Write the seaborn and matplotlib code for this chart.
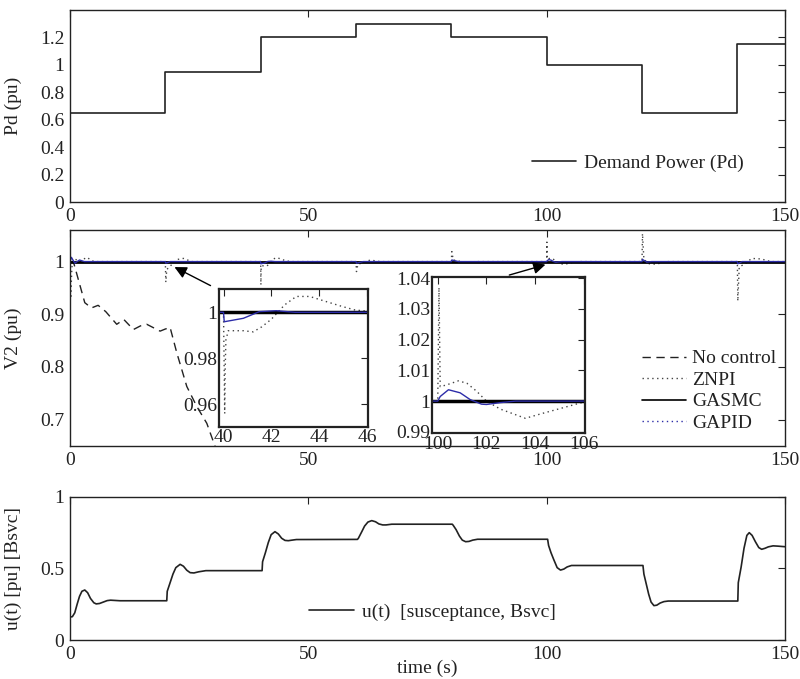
import numpy as np
import pandas as pd
import matplotlib
matplotlib.use("Agg")
import matplotlib.pyplot as plt
from matplotlib.lines import Line2D
from matplotlib.ticker import FuncFormatter
import seaborn as sns

# ==========================================
# 1. Data
# ==========================================
# Demand power steps
pd_time = [0, 20, 40, 60, 80, 100, 120, 140, 150]
pd_value = [0.65, 0.95, 1.2, 1.3, 1.2, 1.0, 0.65, 1.15, 1.15]

# V2 - no control
nc_time = [0, 0.7, 3.1, 4.5, 5.9, 7.5, 9.8, 11.3, 13.3, 14.8, 16.1, 18.9, 20.0,
           21.0, 22.4, 24.5, 26.6, 28.7, 30.8]
nc_value = [1.0, 1.0, 0.922, 0.912, 0.917, 0.905, 0.881, 0.89, 0.871, 0.878, 0.881,
            0.868, 0.872, 0.875, 0.827, 0.763, 0.725, 0.693, 0.64]

# V2 - ZNPI
znpi_time = [0, 0.15, 0.4, 1.0, 2.0, 3.5, 5,
             20.0, 20.1, 20.3, 21.2, 22.5, 23.8, 25.5,
             40.0, 40.05, 40.07, 40.1, 40.2, 40.83, 41.24, 41.6, 42.0, 42.55, 43.04,
             43.6, 44.28, 44.97, 45.5, 46.5,
             60.0, 60.1, 60.4, 61.5, 63, 65,
             80.0, 80.1, 80.4, 81.5, 83, 85,
             100.0, 100.05, 100.1, 100.37, 100.85, 101.2, 101.6, 102.0, 102.57, 103.12,
             103.6, 104.35, 105.18, 106, 107,
             120.0, 120.1, 120.4, 121.5, 123, 125,
             140.0, 140.1, 140.4, 141.5, 143, 145, 147, 150]
znpi_value = [1.0, 0.93, 0.99, 1.005, 1.0, 1.008, 1.0,
              1.0, 0.961, 0.985, 0.993, 1.004, 1.006, 1.0,
              1.0, 0.956, 0.975, 0.988, 0.992, 0.992, 0.9915, 0.9937, 0.997, 1.0032, 1.0069,
              1.0069, 1.0047, 1.0025, 1.001, 1.0,
              1.0, 0.981, 0.995, 0.998, 1.003, 1.0,
              1.0, 1.019, 1.003, 1.001, 0.998, 1.0,
              1.0, 1.037, 1.0047, 1.0053, 1.0066, 1.0058, 1.0032, 1.0, 0.9974, 0.9958,
              0.9944, 0.9961, 0.9979, 0.9997, 1.0,
              1.0, 1.053, 1.004, 0.996, 0.995, 1.0,
              1.0, 0.925, 0.99, 0.995, 1.006, 1.005, 1.0, 1.0]

# V2 - GASMC
gasmc_time = [0, 150]
gasmc_value = [1.0, 1.0]

# V2 - GAPID
gapid_time = [0, 0.3, 1.0, 2.0, 3.0,
              20.0, 20.1, 21,
              40.0, 40.03, 40.83, 41.5, 42.2, 43.0,
              60, 60.1, 61.5,
              80, 80.1, 81.5,
              100.0, 100.1, 100.44, 100.92, 101.33, 101.8, 102.0, 102.57, 103.2,
              120, 120.1, 121, 122,
              140, 140.1, 141, 150]
gapid_value = [1.0, 1.008, 0.997, 1.003, 1.0,
               1.0, 0.997, 1.0,
               1.0, 0.9959, 0.9974, 1.0003, 1.0007, 1.0,
               1.0, 0.997, 1.0,
               1.0, 1.003, 1.0,
               1.0, 1.0015, 1.0037, 1.0027, 1.0005, 0.999, 0.9989, 0.9995, 1.0,
               1.0, 1.004, 0.999, 1.0,
               1.0, 0.996, 1.0, 1.0]

# control signal u(t)
u_time = [0, 0.5, 1.0, 1.5, 2.0, 2.5, 3.1, 3.7, 4.3, 5.0, 5.5, 6.2, 7, 7.8, 8.5, 9.5, 10.5, 20.3,
          20.4, 21.0, 21.6, 22.2, 23.1, 23.8, 24.5, 25.2, 26, 27, 28.5, 40.3,
          40.4, 41, 41.6, 42.2, 43, 43.7, 44.4, 45.1, 45.8, 46.6, 47.5, 60.3,
          60.5, 61.2, 61.8, 62.5, 63.3, 64.1, 64.8, 65.6, 66.3, 67.5, 80.2,
          80.4, 81, 81.7, 82.3, 83, 83.7, 84.5, 85.5, 100.2,
          100.4, 100.9, 101.5, 102.2, 102.9, 103.6, 104.3, 105.2, 120.2,
          120.4, 120.9, 121.4, 121.9, 122.5, 123.1, 123.8, 124.6, 125.5, 140.1,
          140.2, 140.8, 141.4, 142, 142.5, 143.1, 143.8, 144.5, 145.1, 145.8, 146.5,
          147.5, 148.5, 150]
u_value = [0.16, 0.163, 0.19, 0.25, 0.305, 0.34, 0.349, 0.33, 0.29, 0.26, 0.252, 0.255,
           0.265, 0.275, 0.278, 0.276, 0.274, 0.274,
           0.34, 0.40, 0.46, 0.505, 0.528, 0.515, 0.487, 0.47, 0.468, 0.476, 0.484, 0.484,
           0.546, 0.61, 0.68, 0.735, 0.756, 0.74, 0.71, 0.695, 0.693, 0.697, 0.701, 0.702,
           0.71, 0.755, 0.795, 0.823, 0.833, 0.825, 0.81, 0.803, 0.803, 0.808, 0.808,
           0.80, 0.77, 0.725, 0.697, 0.686, 0.688, 0.697, 0.703, 0.703,
           0.66, 0.61, 0.56, 0.505, 0.488, 0.495, 0.51, 0.52, 0.52,
           0.46, 0.39, 0.32, 0.265, 0.24, 0.243, 0.258, 0.268, 0.272, 0.272,
           0.40, 0.51, 0.64, 0.73, 0.749, 0.73, 0.685, 0.645, 0.633, 0.64, 0.65,
           0.657, 0.655, 0.651]

df_pd = pd.DataFrame({"t": pd_time, "v": pd_value})
df_nc = pd.DataFrame({"t": nc_time, "v": nc_value})
df_znpi = pd.DataFrame({"t": znpi_time, "v": znpi_value})
df_gasmc = pd.DataFrame({"t": gasmc_time, "v": gasmc_value})
df_gapid = pd.DataFrame({"t": gapid_time, "v": gapid_value})
df_u = pd.DataFrame({"t": u_time, "v": u_value})

# ==========================================
# 2. Style
# ==========================================
sns.set_theme(style="white")
plt.rcParams['font.family'] = ['Liberation Serif', 'DejaVu Serif']
FS = 14
INK = '#222222'
BLUE = '#2c2ca8'

fig = plt.figure(figsize=(8, 6.79), dpi=100)

ax_pd = fig.add_axes([0.0875, 0.7025, 0.89375, 0.2828])
ax_v = fig.add_axes([0.0875, 0.3432, 0.89375, 0.3181])
ax_u = fig.add_axes([0.0875, 0.0574, 0.89375, 0.2111])
ax_i1 = fig.add_axes([0.2734, 0.3707, 0.187, 0.2032])
ax_i2 = fig.add_axes([0.5396, 0.3618, 0.1916, 0.2306])

gfmt = FuncFormatter(lambda y, _: '%g' % round(y, 6))


def style_axes(ax, lw=1.0):
    for s in ax.spines.values():
        s.set_color(INK)
        s.set_linewidth(lw)
    ax.tick_params(direction='in', top=True, right=True, length=5, width=0.8,
                   colors=INK, labelsize=FS, pad=4)
    ax.xaxis.set_major_formatter(gfmt)
    ax.yaxis.set_major_formatter(gfmt)
    ax.set_xlabel('')
    ax.set_ylabel('')


def v2_lines(ax, lw_black):
    sns.lineplot(data=df_nc, x="t", y="v", ax=ax, color=INK, lw=1.0,
                 linestyle=(0, (6, 4)), estimator=None, sort=False)
    sns.lineplot(data=df_znpi, x="t", y="v", ax=ax, color='#444444', lw=1.0,
                 linestyle=(0, (1, 2.5)), estimator=None, sort=False)
    sns.lineplot(data=df_gasmc, x="t", y="v", ax=ax, color='black', lw=lw_black,
                 estimator=None, sort=False)
    sns.lineplot(data=df_gapid, x="t", y="v", ax=ax, color=BLUE, lw=1.0,
                 estimator=None, sort=False)


# ---- Panel 1: demand power
sns.lineplot(data=df_pd, x="t", y="v", ax=ax_pd, color=INK, lw=1.2,
             drawstyle='steps-post', estimator=None, sort=False)
style_axes(ax_pd)
ax_pd.set_xlim(0, 150)
ax_pd.set_ylim(0, 1.4)
ax_pd.set_xticks([0, 50, 100, 150])
ax_pd.set_yticks([0, 0.2, 0.4, 0.6, 0.8, 1.0, 1.2])
ax_pd.set_ylabel('Pd (pu)', fontsize=FS, color=INK)
ax_pd.legend(handles=[Line2D([], [], color=INK, lw=1.2)], labels=['Demand Power (Pd)'],
             loc='center left', bbox_to_anchor=(0.632, 0.203), frameon=False,
             fontsize=FS, handlelength=2.3, handletextpad=0.4, borderpad=0,
             labelcolor=INK)

# ---- Panel 2: bus voltage
v2_lines(ax_v, 2.0)
style_axes(ax_v)
ax_v.set_xlim(0, 150)
ax_v.set_ylim(0.65, 1.06)
ax_v.set_xticks([0, 50, 100, 150])
ax_v.set_yticks([0.7, 0.8, 0.9, 1.0])
ax_v.set_ylabel('V2 (pu)', fontsize=FS, color=INK)
v_handles = [
    Line2D([], [], color=INK, lw=1.0, linestyle=(0, (6, 4))),
    Line2D([], [], color='#444444', lw=1.0, linestyle=(0, (1, 2.5))),
    Line2D([], [], color='black', lw=1.2),
    Line2D([], [], color=BLUE, lw=1.0, linestyle=(0, (1, 2.5))),
]
ax_v.legend(handles=v_handles, labels=['No control', 'ZNPI', 'GASMC', 'GAPID'],
            loc='center left', bbox_to_anchor=(0.786, 0.255), frameon=False,
            fontsize=FS, handlelength=2.3, handletextpad=0.3, borderpad=0,
            labelspacing=0.2, labelcolor=INK)

# zoom arrows
ax_v.annotate('', xy=(21.4, 0.992), xytext=(30.0, 0.952),
              arrowprops=dict(arrowstyle='-|>', color='black', lw=1.0, mutation_scale=18))
ax_v.annotate('', xy=(100.3, 0.9956), xytext=(91.6, 0.973),
              arrowprops=dict(arrowstyle='-|>', color='black', lw=1.0, mutation_scale=18))

# ---- Inset 1 (t = 40..46)
v2_lines(ax_i1, 2.5)
ax_i1.set_facecolor('white')
style_axes(ax_i1, lw=1.6)
ax_i1.set_xlim(39.8, 46.05)
ax_i1.set_ylim(0.95, 1.01)
ax_i1.set_xticks([40, 42, 44, 46])
ax_i1.set_yticks([0.96, 0.98, 1.0])
ax_i1.tick_params(pad=1)

# ---- Inset 2 (t = 100..106)
v2_lines(ax_i2, 2.5)
ax_i2.set_facecolor('white')
style_axes(ax_i2, lw=1.6)
ax_i2.set_xlim(99.75, 106.05)
ax_i2.set_ylim(0.9895, 1.0405)
ax_i2.set_xticks([100, 102, 104, 106])
ax_i2.set_yticks([0.99, 1.0, 1.01, 1.02, 1.03, 1.04])
ax_i2.tick_params(axis='y', pad=1)
ax_i2.tick_params(axis='x', pad=2)

# ---- Panel 3: control signal
sns.lineplot(data=df_u, x="t", y="v", ax=ax_u, color=INK, lw=1.2,
             estimator=None, sort=False)
style_axes(ax_u)
ax_u.set_xlim(0, 150)
ax_u.set_ylim(0, 1)
ax_u.set_xticks([0, 50, 100, 150])
ax_u.set_yticks([0, 0.5, 1])
ax_u.set_ylabel('u(t) [pu] [Bsvc]', fontsize=FS, color=INK)
ax_u.set_xlabel('time (s)', fontsize=FS, color=INK)
ax_u.xaxis.set_label_coords(0.5, -0.14)
ax_u.legend(handles=[Line2D([], [], color=INK, lw=1.2)],
            labels=['u(t)  [susceptance, Bsvc]'],
            loc='center left', bbox_to_anchor=(0.321, 0.197), frameon=False,
            fontsize=FS, handlelength=2.3, handletextpad=0.4, borderpad=0,
            labelcolor=INK)

for a in (ax_pd, ax_v, ax_u):
    a.yaxis.set_label_coords(-0.067, 0.5)

fig.savefig('out.png', dpi=100)
